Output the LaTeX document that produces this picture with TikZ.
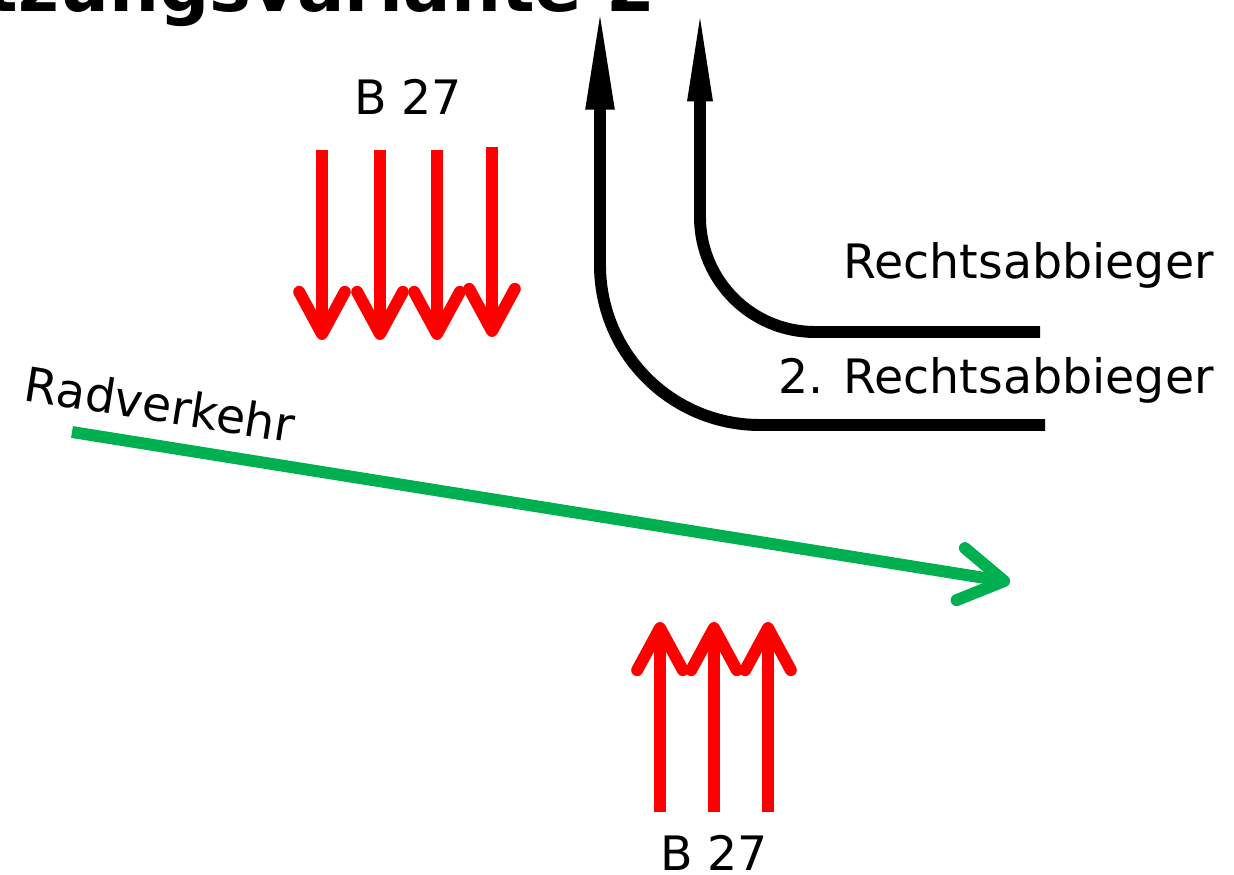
\documentclass[tikz,border=0pt]{standalone}
\usepackage{xcolor}
\usepackage{fontspec}
\setmainfont{DejaVu Sans}
\usepackage{tikz}
\usetikzlibrary{arrows.meta,positioning}

\definecolor{radgruen}{RGB}{0,176,80}

\begin{document}
\begin{tikzpicture}[x=0.02cm,y=-0.02cm]
        \tikzstyle{kfz}=[draw=red,line width=6.8pt,-{Straight Barb[length=24pt,width=26pt,round]}]
        \tikzstyle{abbieger}=[draw=black,line width=6.8pt]
        \tikzstyle{rad}=[draw=radgruen,line width=6.8pt,-{Straight Barb[length=25pt,width=30pt,round]}]
        \tikzstyle{beschriftung}=[inner sep=0pt,font=\fontsize{27}{32}\selectfont]
        \useasboundingbox (0,0) rectangle (1234,875);
        % Titel, oben abgeschnitten
        \node[inner sep=0pt,anchor=base east,font=\fontsize{40}{46}\selectfont\bfseries] (Titel) at (656,12) {Umsetzungsvariante 2};
        % B 27 von Norden
        \coordinate (Sd1) at (322,150); \coordinate (Ed1) at (322,340);
        \coordinate (Sd2) at (380,150); \coordinate (Ed2) at (380,340);
        \coordinate (Sd3) at (437,150); \coordinate (Ed3) at (437,340);
        \coordinate (Sd4) at (492,147); \coordinate (Ed4) at (492,337);
        \node[beschriftung] (Bn) at (408,97) {B 27};
        \path[kfz] (Sd1) -- (Ed1);
        \path[kfz] (Sd2) -- (Ed2);
        \path[kfz] (Sd3) -- (Ed3);
        \path[kfz] (Sd4) -- (Ed4);
        % B 27 von Sueden
        \coordinate (Su1) at (660,812); \coordinate (Eu1) at (660,622);
        \coordinate (Su2) at (714,812); \coordinate (Eu2) at (714,622);
        \coordinate (Su3) at (768,812); \coordinate (Eu3) at (768,622);
        \node[beschriftung] (Bs) at (714,853) {B 27};
        \path[kfz] (Su1) -- (Eu1);
        \path[kfz] (Su2) -- (Eu2);
        \path[kfz] (Su3) -- (Eu3);
        % Rechtsabbieger
        \coordinate (R1s) at (1040,332); \coordinate (R1k) at (700,332); \coordinate (R1e) at (700,3);
        \coordinate (R2s) at (1045,425); \coordinate (R2k) at (600,425); \coordinate (R2e) at (600,6);
        \node[beschriftung,anchor=east] (R1) at (1214,265) {Rechtsabbieger};
        \node[beschriftung,anchor=east] (R2) at (1214,380) {2. Rechtsabbieger};
        \path[abbieger,rounded corners=2.3cm,-{Triangle[length=56pt,width=12.5pt]}] (R1s) -- (R1k) -- (R1e);
        \path[abbieger,rounded corners=3.2cm,-{Triangle[length=59pt,width=14.7pt]}] (R2s) -- (R2k) -- (R2e);
        % Radverkehr
        \coordinate (Rad1) at (72,432); \coordinate (Rad2) at (1010,582);
        \node[beschriftung,rotate=-9] (Rad) at (160,404) {Radverkehr};
        \path[rad] (Rad1) -- (Rad2);
    \end{tikzpicture}
\end{document}
